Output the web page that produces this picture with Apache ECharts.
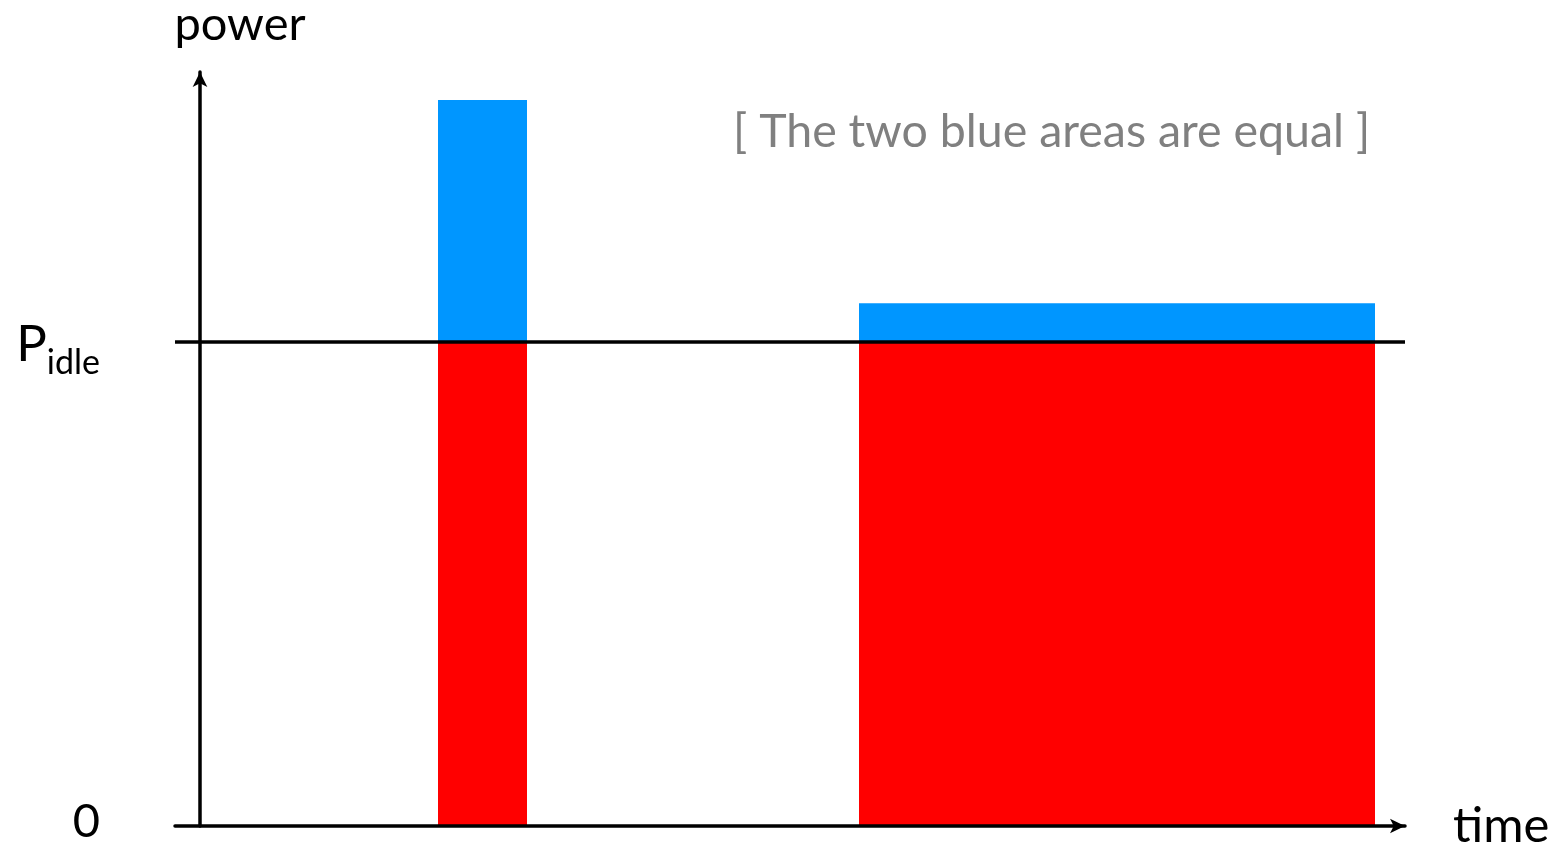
<!DOCTYPE html>
<html>
<head>
<meta charset="utf-8">
<script src="https://cdn.jsdelivr.net/npm/echarts@6/dist/echarts.min.js"></script>
<style>
html,body{margin:0;padding:0;background:#fff;}
#chart{width:1555px;height:843px;}
</style>
</head>
<body>
<div id="chart"></div>
<script>
// Data (time in arbitrary units, power in units of P_idle)
const taskStart = [2.38, 6.59];
const taskEnd = [3.27, 11.75];
const taskPeak = [1.5, 1.08];
const idlePower = 1;
const timeRange = [-0.25, 12.05];
const powerRange = [0, 1.558];
const yTickValues = [0, idlePower];
const annotation = '[ The two blue areas are equal ]';

const FONT = 'Lato';
const idleRects = taskStart.map((s, i) => [s, taskEnd[i], 0, idlePower]);
const extraRects = taskStart.map((s, i) => [s, taskEnd[i], idlePower, taskPeak[i]]);

function rectItem(params, api) {
  const p0 = api.coord([api.value(0), api.value(2)]);
  const p1 = api.coord([api.value(1), api.value(3)]);
  return {
    type: 'rect',
    shape: { x: p0[0], y: p1[1], width: p1[0] - p0[0], height: p0[1] - p1[1] },
    style: { fill: api.visual('color') }
  };
}

const chart = echarts.init(document.getElementById('chart'), null, { renderer: 'canvas' });
chart.setOption({
  animation: false,
  backgroundColor: '#fff',
  textStyle: { fontFamily: FONT },
  grid: { left: 175, right: 150, top: 72, bottom: 17, containLabel: false, outerBoundsMode: 'none' },
  title: {
    text: annotation,
    left: 728, top: 103,
    textStyle: { fontFamily: FONT, fontWeight: 'normal', fontSize: 46.5, color: '#808080' }
  },
  xAxis: {
    type: 'value', min: timeRange[0], max: timeRange[1], z: 10,
    name: 'time', nameLocation: 'end', nameGap: 48,
    nameTextStyle: { fontFamily: FONT, fontSize: 49, color: '#000', verticalAlign: 'middle', padding: [0, 0, 10, 0] },
    axisLine: { onZero: false, symbol: ['none', 'arrow'], symbolSize: [11, 15], lineStyle: { color: '#000', width: 3.5 } },
    axisTick: { show: false }, axisLabel: { show: false }, splitLine: { show: false }
  },
  yAxis: {
    type: 'value', min: powerRange[0], max: powerRange[1], z: 10,
    name: 'power', nameLocation: 'end', nameGap: 24,
    nameTextStyle: { fontFamily: FONT, fontSize: 47, color: '#000', align: 'center', padding: [0, 0, 0, 80] },
    axisLine: { onZero: true, symbol: ['none', 'arrow'], symbolSize: [11, 15], lineStyle: { color: '#000', width: 3.5 } },
    axisTick: { show: false },
    axisLabel: {
      customValues: yTickValues, margin: 75, color: '#000', fontFamily: FONT,
      formatter: v => v === 0 ? '{z|0}' : '{p|P}{s|idle}',
      rich: {
        z: { fontFamily: FONT, fontSize: 47, color: '#000', padding: [0, 0, 8, 0] },
        p: { fontFamily: FONT, fontSize: 51, color: '#000', verticalAlign: 'top', lineHeight: 75, padding: [15, 0, 0, 0] },
        s: { fontFamily: FONT, fontSize: 34, color: '#000', verticalAlign: 'bottom', lineHeight: 34 }
      }
    },
    splitLine: { show: false }
  },
  series: [
    { type: 'custom', name: 'idle', renderItem: rectItem, encode: { x: [0, 1], y: [2, 3] }, itemStyle: { color: '#ff0000' }, data: idleRects, z: 2 },
    { type: 'custom', name: 'extra', renderItem: rectItem, encode: { x: [0, 1], y: [2, 3] }, itemStyle: { color: '#0096ff' }, data: extraRects, z: 2 },
    { type: 'line', name: 'Pidle', data: [[timeRange[0], idlePower], [timeRange[1], idlePower]], symbol: 'none', lineStyle: { color: '#000', width: 3.5 }, z: 5, silent: true }
  ]
});
</script>
</body>
</html>
